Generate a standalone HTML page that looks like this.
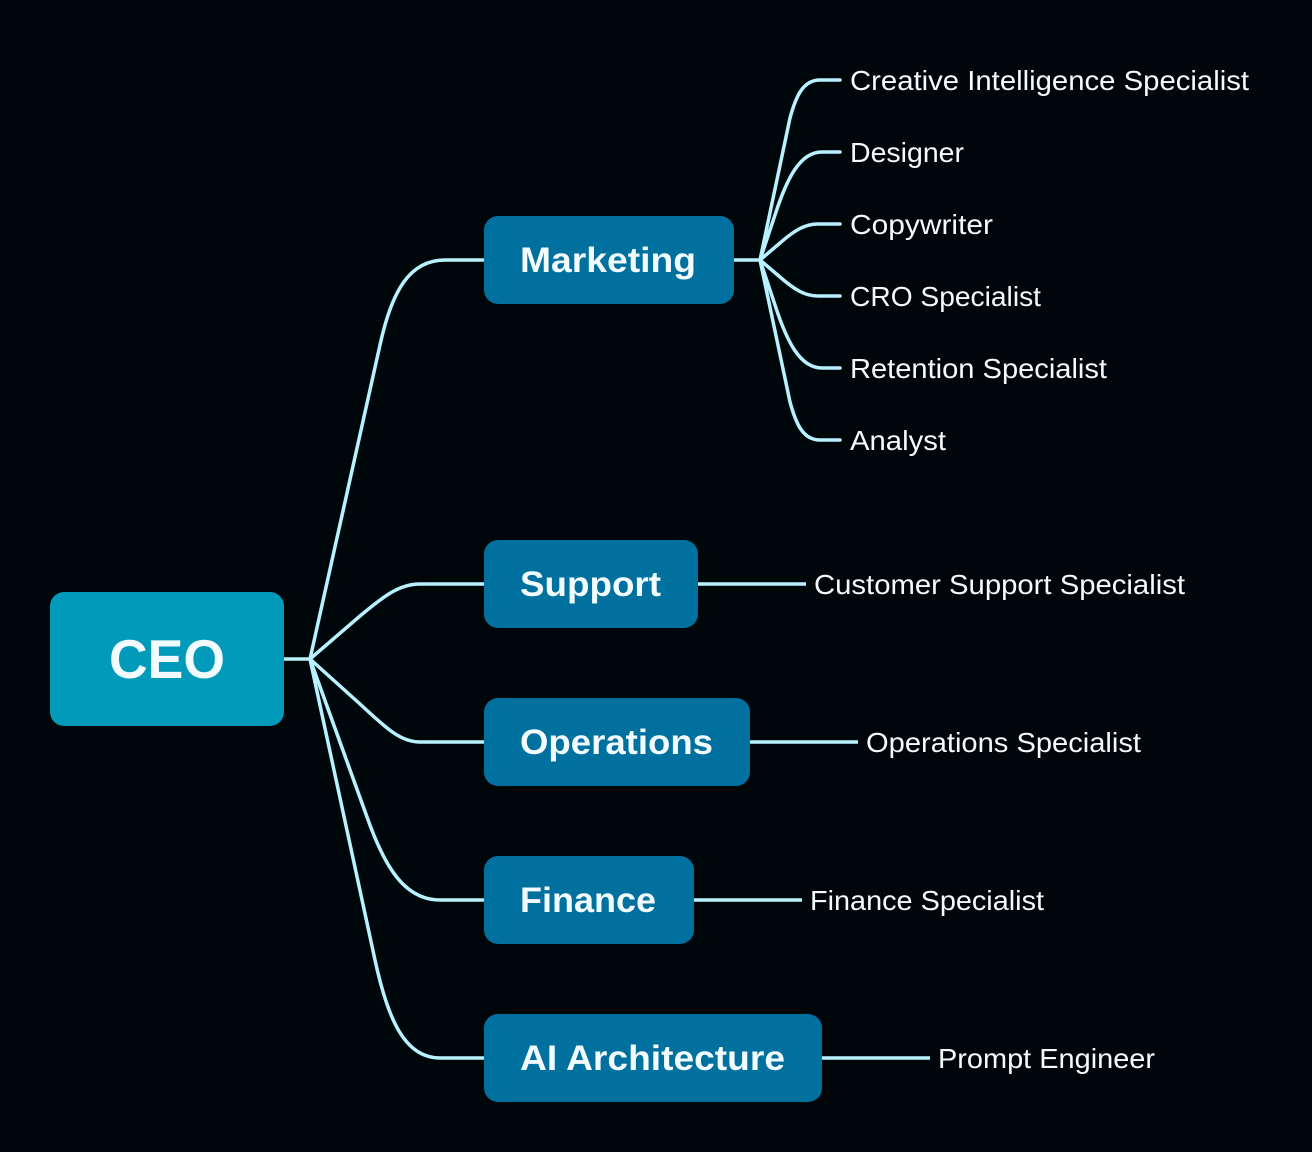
<!DOCTYPE html>
<html><head><meta charset="utf-8"><style>
html,body{margin:0;padding:0;background:#00070b}
svg{display:block}
text{font-family:"Liberation Sans",sans-serif}
.b{font-weight:700;font-size:35px;fill:#f2fbff}
.l{font-size:28px;fill:#f4fbff}
</style></head><body>
<svg width="1312" height="1152" viewBox="0 0 1312 1152" xmlns="http://www.w3.org/2000/svg">
<rect width="1312" height="1152" fill="#00070b"/>
<g fill="none" stroke="#b8f1ff" stroke-width="3.5" stroke-linejoin="round">
<path d="M284 659H310"/>
<path d="M310 659L380 345C392 290 410 260 445 260H484"/>
<path d="M310 659L360 616C385 595 400 584 420 584H484"/>
<path d="M310 659L360 704C385 727 400 742 420 742H484"/>
<path d="M310 659L367 817C385 868 405 900 440 900H484"/>
<path d="M310 659L375 960C388 1020 405 1058 440 1058H484"/>
<path d="M734 260H760"/>
<path d="M698 584H806"/>
<path d="M750 742H858"/>
<path d="M694 900H802"/>
<path d="M822 1058H930"/>
</g>
<g fill="none" stroke="#b8f1ff" stroke-width="3.5" stroke-linecap="round" stroke-linejoin="round">
<path d="M760 260L790 118C796 96 803 80 820 80H840"/>
<path d="M760 260L775 215C787 178 800 152 822 152H840"/>
<path d="M760 260L780 243C795 230 805 224 818 224H840"/>
<path d="M760 260L780 277C795 290 805 296 818 296H840"/>
<path d="M760 260L775 305C787 342 800 368 822 368H840"/>
<path d="M760 260L790 402C796 424 803 440 820 440H840"/>
</g>
<rect x="50" y="592" width="234" height="134" rx="14" fill="#029aba"/>
<rect x="484" y="216" width="250" height="88" rx="14" fill="#00709e"/>
<rect x="484" y="540" width="214" height="88" rx="14" fill="#00709e"/>
<rect x="484" y="698" width="266" height="88" rx="14" fill="#00709e"/>
<rect x="484" y="856" width="210" height="88" rx="14" fill="#00709e"/>
<rect x="484" y="1014" width="338" height="88" rx="14" fill="#00709e"/>
<text x="109" y="678" font-size="55" font-weight="700" fill="#f2fbff" textLength="116" lengthAdjust="spacingAndGlyphs">CEO</text>
<text class="b" x="520" y="272" textLength="176" lengthAdjust="spacingAndGlyphs">Marketing</text>
<text class="b" x="520" y="596" textLength="141" lengthAdjust="spacingAndGlyphs">Support</text>
<text class="b" x="520" y="754" textLength="193" lengthAdjust="spacingAndGlyphs">Operations</text>
<text class="b" x="520" y="912" textLength="136" lengthAdjust="spacingAndGlyphs">Finance</text>
<text class="b" x="520" y="1070" textLength="265" lengthAdjust="spacingAndGlyphs">AI Architecture</text>
<text class="l" x="850" y="90" textLength="399" lengthAdjust="spacingAndGlyphs">Creative Intelligence Specialist</text>
<text class="l" x="850" y="162" textLength="114" lengthAdjust="spacingAndGlyphs">Designer</text>
<text class="l" x="850" y="234" textLength="143" lengthAdjust="spacingAndGlyphs">Copywriter</text>
<text class="l" x="850" y="306" textLength="191" lengthAdjust="spacingAndGlyphs">CRO Specialist</text>
<text class="l" x="850" y="378" textLength="257" lengthAdjust="spacingAndGlyphs">Retention Specialist</text>
<text class="l" x="850" y="450" textLength="96" lengthAdjust="spacingAndGlyphs">Analyst</text>
<text class="l" x="814" y="594" textLength="371" lengthAdjust="spacingAndGlyphs">Customer Support Specialist</text>
<text class="l" x="866" y="752" textLength="275" lengthAdjust="spacingAndGlyphs">Operations Specialist</text>
<text class="l" x="810" y="910" textLength="234" lengthAdjust="spacingAndGlyphs">Finance Specialist</text>
<text class="l" x="938" y="1068" textLength="217" lengthAdjust="spacingAndGlyphs">Prompt Engineer</text>
</svg>
</body></html>
